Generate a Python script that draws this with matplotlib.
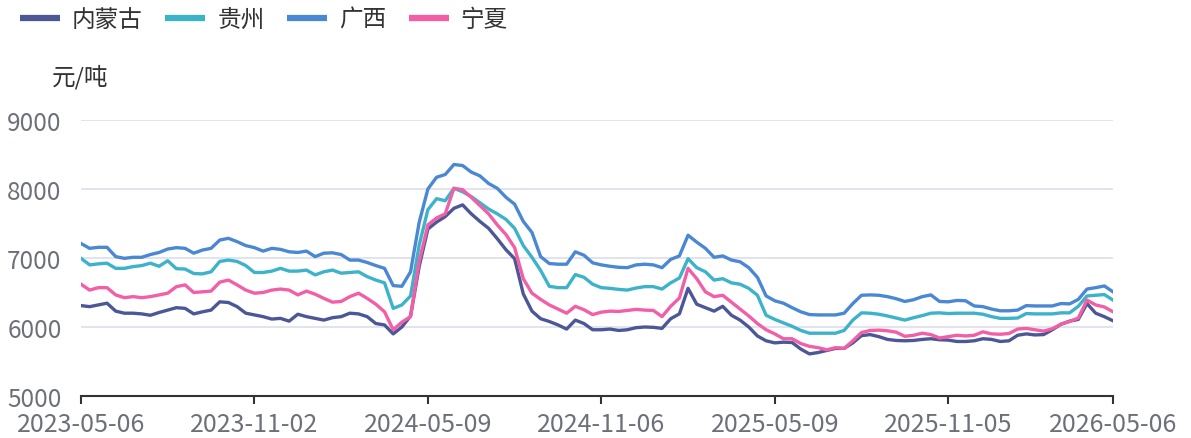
import matplotlib
matplotlib.use("Agg")
import matplotlib.pyplot as plt
from matplotlib.lines import Line2D

plt.rcParams['font.family'] = ['Noto Sans CJK SC', 'DejaVu Sans']

series_names = ['内蒙古', '贵州', '广西', '宁夏']
colors = ['#4b5797', '#3db3ca', '#4a88d3', '#f25fa6']

tick_labels = ['2023-05-06', '2023-11-02', '2024-05-09', '2024-11-06',
               '2025-05-09', '2025-11-05', '2026-05-06']
tick_pos = [0, 20, 40, 60, 80, 100, 119]

neimenggu = [6310, 6295, 6320, 6345, 6230, 6200, 6200, 6190, 6170, 6210, 6245, 6280, 6270, 6190, 6220, 6245, 6365, 6355,
             6295, 6200, 6175, 6150, 6115, 6125, 6085, 6185, 6150, 6125, 6100, 6135, 6150, 6200, 6190, 6150,
             6050, 6030, 5900, 6000, 6160, 6880, 7420, 7520, 7600, 7720, 7770, 7640, 7530, 7430, 7280, 7120,
             6990, 6480, 6230, 6120, 6080, 6030, 5970, 6100, 6050, 5960, 5960, 5970, 5950, 5960, 5990, 6000,
             5995, 5980, 6120, 6190, 6560, 6330, 6280, 6230, 6300, 6170, 6100, 6000, 5870, 5800, 5770, 5780,
             5775, 5680, 5610, 5630, 5660, 5690, 5690, 5770, 5875, 5890, 5860, 5820, 5805, 5800, 5805, 5820,
             5830, 5815, 5810, 5790, 5790, 5800, 5830, 5820, 5790, 5800, 5880, 5900, 5885, 5890, 5960, 6040,
             6085, 6110, 6340, 6200, 6150, 6090]
guizhou = [6995, 6900, 6915, 6925, 6850, 6850, 6875, 6890, 6925, 6880, 6960, 6845, 6840, 6775, 6770, 6800, 6950, 6970,
           6950, 6890, 6790, 6790, 6810, 6850, 6810, 6810, 6825, 6755, 6800, 6825, 6780, 6790, 6800, 6730,
           6680, 6640, 6270, 6320, 6450, 7190, 7700, 7860, 7830, 8010, 7960, 7890, 7800, 7710, 7640, 7560,
           7430, 7180, 7010, 6820, 6590, 6570, 6570, 6760, 6720, 6620, 6570, 6560, 6545, 6535, 6565, 6585,
           6585, 6550, 6640, 6710, 6990, 6860, 6800, 6680, 6700, 6640, 6620, 6560, 6460, 6170, 6110, 6060,
           6010, 5950, 5910, 5910, 5910, 5910, 5950, 6100, 6205, 6200, 6185, 6160, 6130, 6100, 6135, 6165,
           6200, 6205, 6195, 6200, 6200, 6200, 6185, 6150, 6125, 6125, 6130, 6195, 6190, 6190, 6190, 6205,
           6205, 6300, 6450, 6460, 6470, 6390]
guangxi = [7210, 7140, 7155, 7155, 7020, 6995, 7010, 7010, 7050, 7080, 7130, 7150, 7140, 7070, 7115, 7140, 7260, 7285,
           7237, 7180, 7150, 7100, 7140, 7125, 7090, 7080, 7100, 7020, 7070, 7075, 7050, 6970, 6970, 6935,
           6890, 6850, 6600, 6590, 6800, 7520, 8000, 8170, 8210, 8355, 8340, 8245, 8190, 8080, 8010, 7880,
           7780, 7530, 7370, 7020, 6920, 6910, 6910, 7090, 7040, 6930, 6900, 6880, 6865, 6860, 6900, 6910,
           6900, 6860, 6980, 7030, 7330, 7230, 7140, 7010, 7030, 6970, 6945, 6860, 6720, 6450, 6380, 6345,
           6280, 6220, 6180, 6175, 6175, 6175, 6200, 6340, 6460, 6465, 6460, 6440, 6410, 6370, 6395, 6440,
           6465, 6370, 6365, 6385, 6380, 6305, 6295, 6260, 6235, 6235, 6245, 6310, 6305, 6305, 6305, 6340,
           6335, 6400, 6550, 6570, 6595, 6510]
ningxia = [6620, 6535, 6570, 6570, 6465, 6425, 6440, 6425, 6440, 6465, 6490, 6585, 6610, 6500, 6510, 6520, 6650, 6680,
           6610, 6535, 6490, 6500, 6535, 6550, 6535, 6465, 6520, 6475, 6415, 6360, 6370, 6440, 6490, 6415,
           6330, 6220, 5960, 6070, 6150, 6950, 7480, 7580, 7640, 8010, 7990, 7880, 7760, 7640, 7480, 7340,
           7150, 6700, 6490, 6400, 6320, 6260, 6200, 6300, 6250, 6180, 6215, 6230, 6225, 6240, 6255, 6245,
           6240, 6150, 6300, 6420, 6850, 6700, 6510, 6440, 6460, 6360, 6260, 6160, 6050, 5960, 5900, 5830,
           5830, 5760, 5720, 5700, 5670, 5700, 5690, 5800, 5920, 5950, 5955, 5945, 5925, 5865, 5880, 5910,
           5890, 5840, 5860, 5880, 5870, 5880, 5930, 5900, 5895, 5905, 5970, 5980, 5960, 5940, 5975, 6040,
           6080, 6130, 6390, 6320, 6290, 6220]

data = [neimenggu, guizhou, guangxi, ningxia]

fig = plt.figure(figsize=(11.91, 4.39), dpi=100)
ax = fig.add_axes([81/1191, 1-397/439, (1113-81)/1191, (397-121)/439])

x = list(range(len(neimenggu)))
handles = []
for name, vals, c in zip(series_names, data, colors):
    ax.plot(x, vals, color=c, lw=2.4, solid_joinstyle='round', zorder=3)
    handles.append(Line2D([0], [0], color=c, lw=4.5, solid_capstyle='butt'))

ax.set_xlim(0, len(x) - 1)
ax.set_ylim(5000, 9000)
ax.set_yticks([5000, 6000, 7000, 8000, 9000])
ax.set_xticks(tick_pos)
ax.set_xticklabels(tick_labels)
ax.grid(axis='y', color='#dfe1ea', lw=1.3, zorder=0)
for s in ['top', 'right', 'left']:
    ax.spines[s].set_visible(False)
ax.spines['bottom'].set_color('#333333')
ax.spines['bottom'].set_linewidth(1.5)
ax.tick_params(axis='y', length=0, labelsize=17.5, labelcolor='#6e7079', pad=14)
ax.tick_params(axis='x', length=6, width=1.5, color='#333333', labelsize=18,
               labelcolor='#6e7079', pad=5)

fig.legend(handles, series_names, loc='upper left', bbox_to_anchor=(20/1191, 1-9/439),
           ncol=4, frameon=False, fontsize=17, handlelength=1.7, handletextpad=0.5,
           columnspacing=0.95, labelcolor='#333333', borderpad=0, borderaxespad=0)
fig.text(52/1191, 1-77/439, '元/吨', fontsize=17, color='#333333', va='center', ha='left')

fig.savefig('out.png', dpi=100)
